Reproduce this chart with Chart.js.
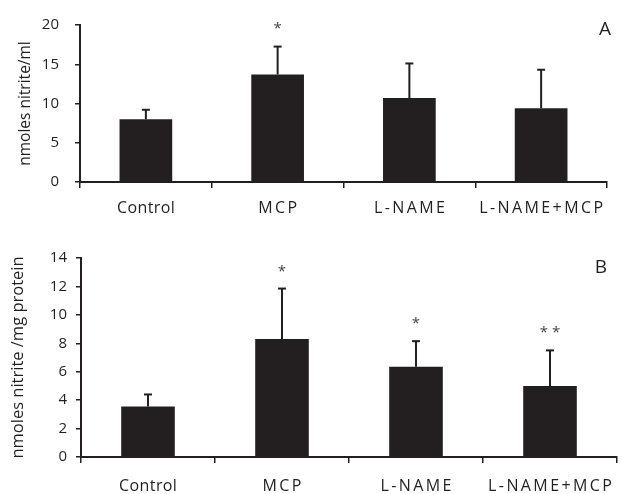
<!DOCTYPE html>
<html>
<head>
<meta charset="utf-8">
<script src="https://cdn.jsdelivr.net/npm/chart.js@4.4.1/dist/chart.umd.min.js"></script>
<style>
  html, body { margin: 0; padding: 0; background: #fff; }
  #wrap { position: relative; width: 622px; height: 494px; }
  .panel { position: absolute; left: 0; width: 622px; }
  #pa { top: 0; height: 240px; }
  #pb { top: 240px; height: 254px; }
</style>
</head>
<body>
<div id="wrap">
  <div class="panel" id="pa"><canvas id="chartA" width="622" height="240"></canvas></div>
  <div class="panel" id="pb"><canvas id="chartB" width="622" height="254"></canvas></div>
</div>
<script>
// ---- data ----
const categories = ['Control', 'MCP', 'L-NAME', 'L-NAME+MCP'];

const valuesA = [8.0, 13.7, 10.7, 9.4];
const errorsA = [1.2, 3.55, 4.4, 4.9];
const signifA = ['', '*', '', ''];
const ticksA = [0, 5, 10, 15, 20];

const valuesB = [3.55, 8.3, 6.35, 5.0];
const errorsB = [0.85, 3.55, 1.8, 2.5];
const signifB = ['', '*', '*', '**'];
const ticksB = [0, 2, 4, 6, 8, 10, 12, 14];

const titleA = 'nmoles nitrite/ml';
const titleB = 'nmoles nitrite /mg protein';
const panelLetterA = 'A';
const panelLetterB = 'B';

// ---- styling ----
const INK = '#231f20';
const FONT = "'Open Sans', 'Noto Sans', sans-serif";

const errorBarPlugin = {
  id: 'errorBars',
  afterLayout(chart) {
    // draw x labels with letter spacing similar to the original typesetting
    const sc = chart.scales.x;
    if (sc._spaced) return;
    sc._spaced = true;
    sc.drawLabels = function (area) {
      const ctx = this.ctx;
      const items = this.getLabelItems(area);
      for (const item of items) {
        const o = item.options;
        const label = String(item.label);
        const sp = /^[A-Z+\-]+$/.test(label) ? 2.4 : 0.4;
        ctx.save();
        ctx.translate(o.translation[0], o.translation[1]);
        ctx.font = item.font.string;
        ctx.fillStyle = o.color;
        ctx.textAlign = o.textAlign;
        ctx.textBaseline = o.textBaseline;
        ctx.letterSpacing = sp + 'px';
        ctx.fillText(label, sp / 2, item.textOffset);
        ctx.restore();
      }
    };
  },
  afterDatasetsDraw(chart, args, opts) {
    const ctx = chart.ctx;
    const meta = chart.getDatasetMeta(0);
    const ys = chart.scales.y;
    const vals = chart.data.datasets[0].data;
    ctx.save();
    ctx.strokeStyle = INK;
    ctx.fillStyle = INK;
    ctx.lineWidth = 2;
    meta.data.forEach((bar, i) => {
      const x = bar.x;
      const top = ys.getPixelForValue(vals[i] + opts.errors[i]);
      const base = ys.getPixelForValue(vals[i]);
      ctx.beginPath();
      ctx.moveTo(x, base);
      ctx.lineTo(x, top);
      ctx.stroke();
      ctx.beginPath();
      ctx.moveTo(x - 4, top);
      ctx.lineTo(x + 4, top);
      ctx.stroke();
      const s = opts.signif[i];
      if (s) {
        ctx.font = '15px ' + FONT;
        ctx.textAlign = 'center';
        ctx.textBaseline = 'alphabetic';
        ctx.fillStyle = '#444';
        ctx.fillText(s.split('').join(' '), x, top - opts.starGap);
      }
    });
    ctx.font = '19px ' + FONT;
    ctx.fillStyle = INK;
    ctx.textAlign = 'center';
    ctx.textBaseline = 'middle';
    ctx.fillText(opts.letter, opts.letterX, opts.letterY);
    ctx.restore();
  }
};

function makeChart(id, values, errors, signif, tickVals, title, letter, cfg) {
  return new Chart(document.getElementById(id), {
    type: 'bar',
    data: {
      labels: categories,
      datasets: [{
        data: values,
        backgroundColor: INK,
        borderWidth: 0,
        barPercentage: 0.4,
        categoryPercentage: 1.0
      }]
    },
    options: {
      responsive: false,
      animation: false,
      layout: { padding: { left: 0, top: cfg.top, right: cfg.right, bottom: 0 } },
      plugins: {
        legend: { display: false },
        tooltip: { enabled: false },
        errorBars: {
          errors: errors, signif: signif, starGap: cfg.starGap,
          letter: letter, letterX: cfg.letterX, letterY: cfg.letterY
        }
      },
      scales: {
        x: {
          offset: true,
          grid: {
            display: true, offset: true, drawOnChartArea: false, drawTicks: true,
            tickLength: 6, color: INK, lineWidth: 1.5
          },
          border: { display: true, color: INK, width: 2 },
          ticks: { color: INK, font: { family: FONT, size: 16 }, padding: cfg.xPad, maxRotation: 0, autoSkip: false },
          afterFit(scale) { scale.height = cfg.xHeight; }
        },
        y: {
          min: tickVals[0],
          max: tickVals[tickVals.length - 1],
          afterBuildTicks(scale) { scale.ticks = tickVals.map(v => ({ value: v })); },
          grid: {
            display: true, drawOnChartArea: false, drawTicks: true,
            tickLength: 5, color: INK, lineWidth: 1.5
          },
          border: { display: true, color: INK, width: 2 },
          ticks: { color: INK, font: { family: FONT, size: 15 }, padding: cfg.yPad },
          title: {
            display: true, text: title, color: INK,
            font: { family: FONT, size: cfg.titleSize }, padding: { top: cfg.titlePad, bottom: 0 }
          },
          afterFit(scale) { scale.width = cfg.left; }
        }
      }
    },
    plugins: [errorBarPlugin]
  });
}

makeChart('chartA', valuesA, errorsA, signifA, ticksA, titleA, panelLetterA,
  { top: 14, right: 15, left: 80, xHeight: 58, xPad: 11, yPad: 16, titlePad: 16, titleSize: 15.5, starGap: 14, letterX: 605, letterY: 30 });
makeChart('chartB', valuesB, errorsB, signifB, ticksB, titleB, panelLetterB,
  { top: 16, right: 5, left: 81, xHeight: 37, xPad: 14, yPad: 9, titlePad: 8, titleSize: 16.5, starGap: 13, letterX: 601, letterY: 28 });
</script>
</body>
</html>
